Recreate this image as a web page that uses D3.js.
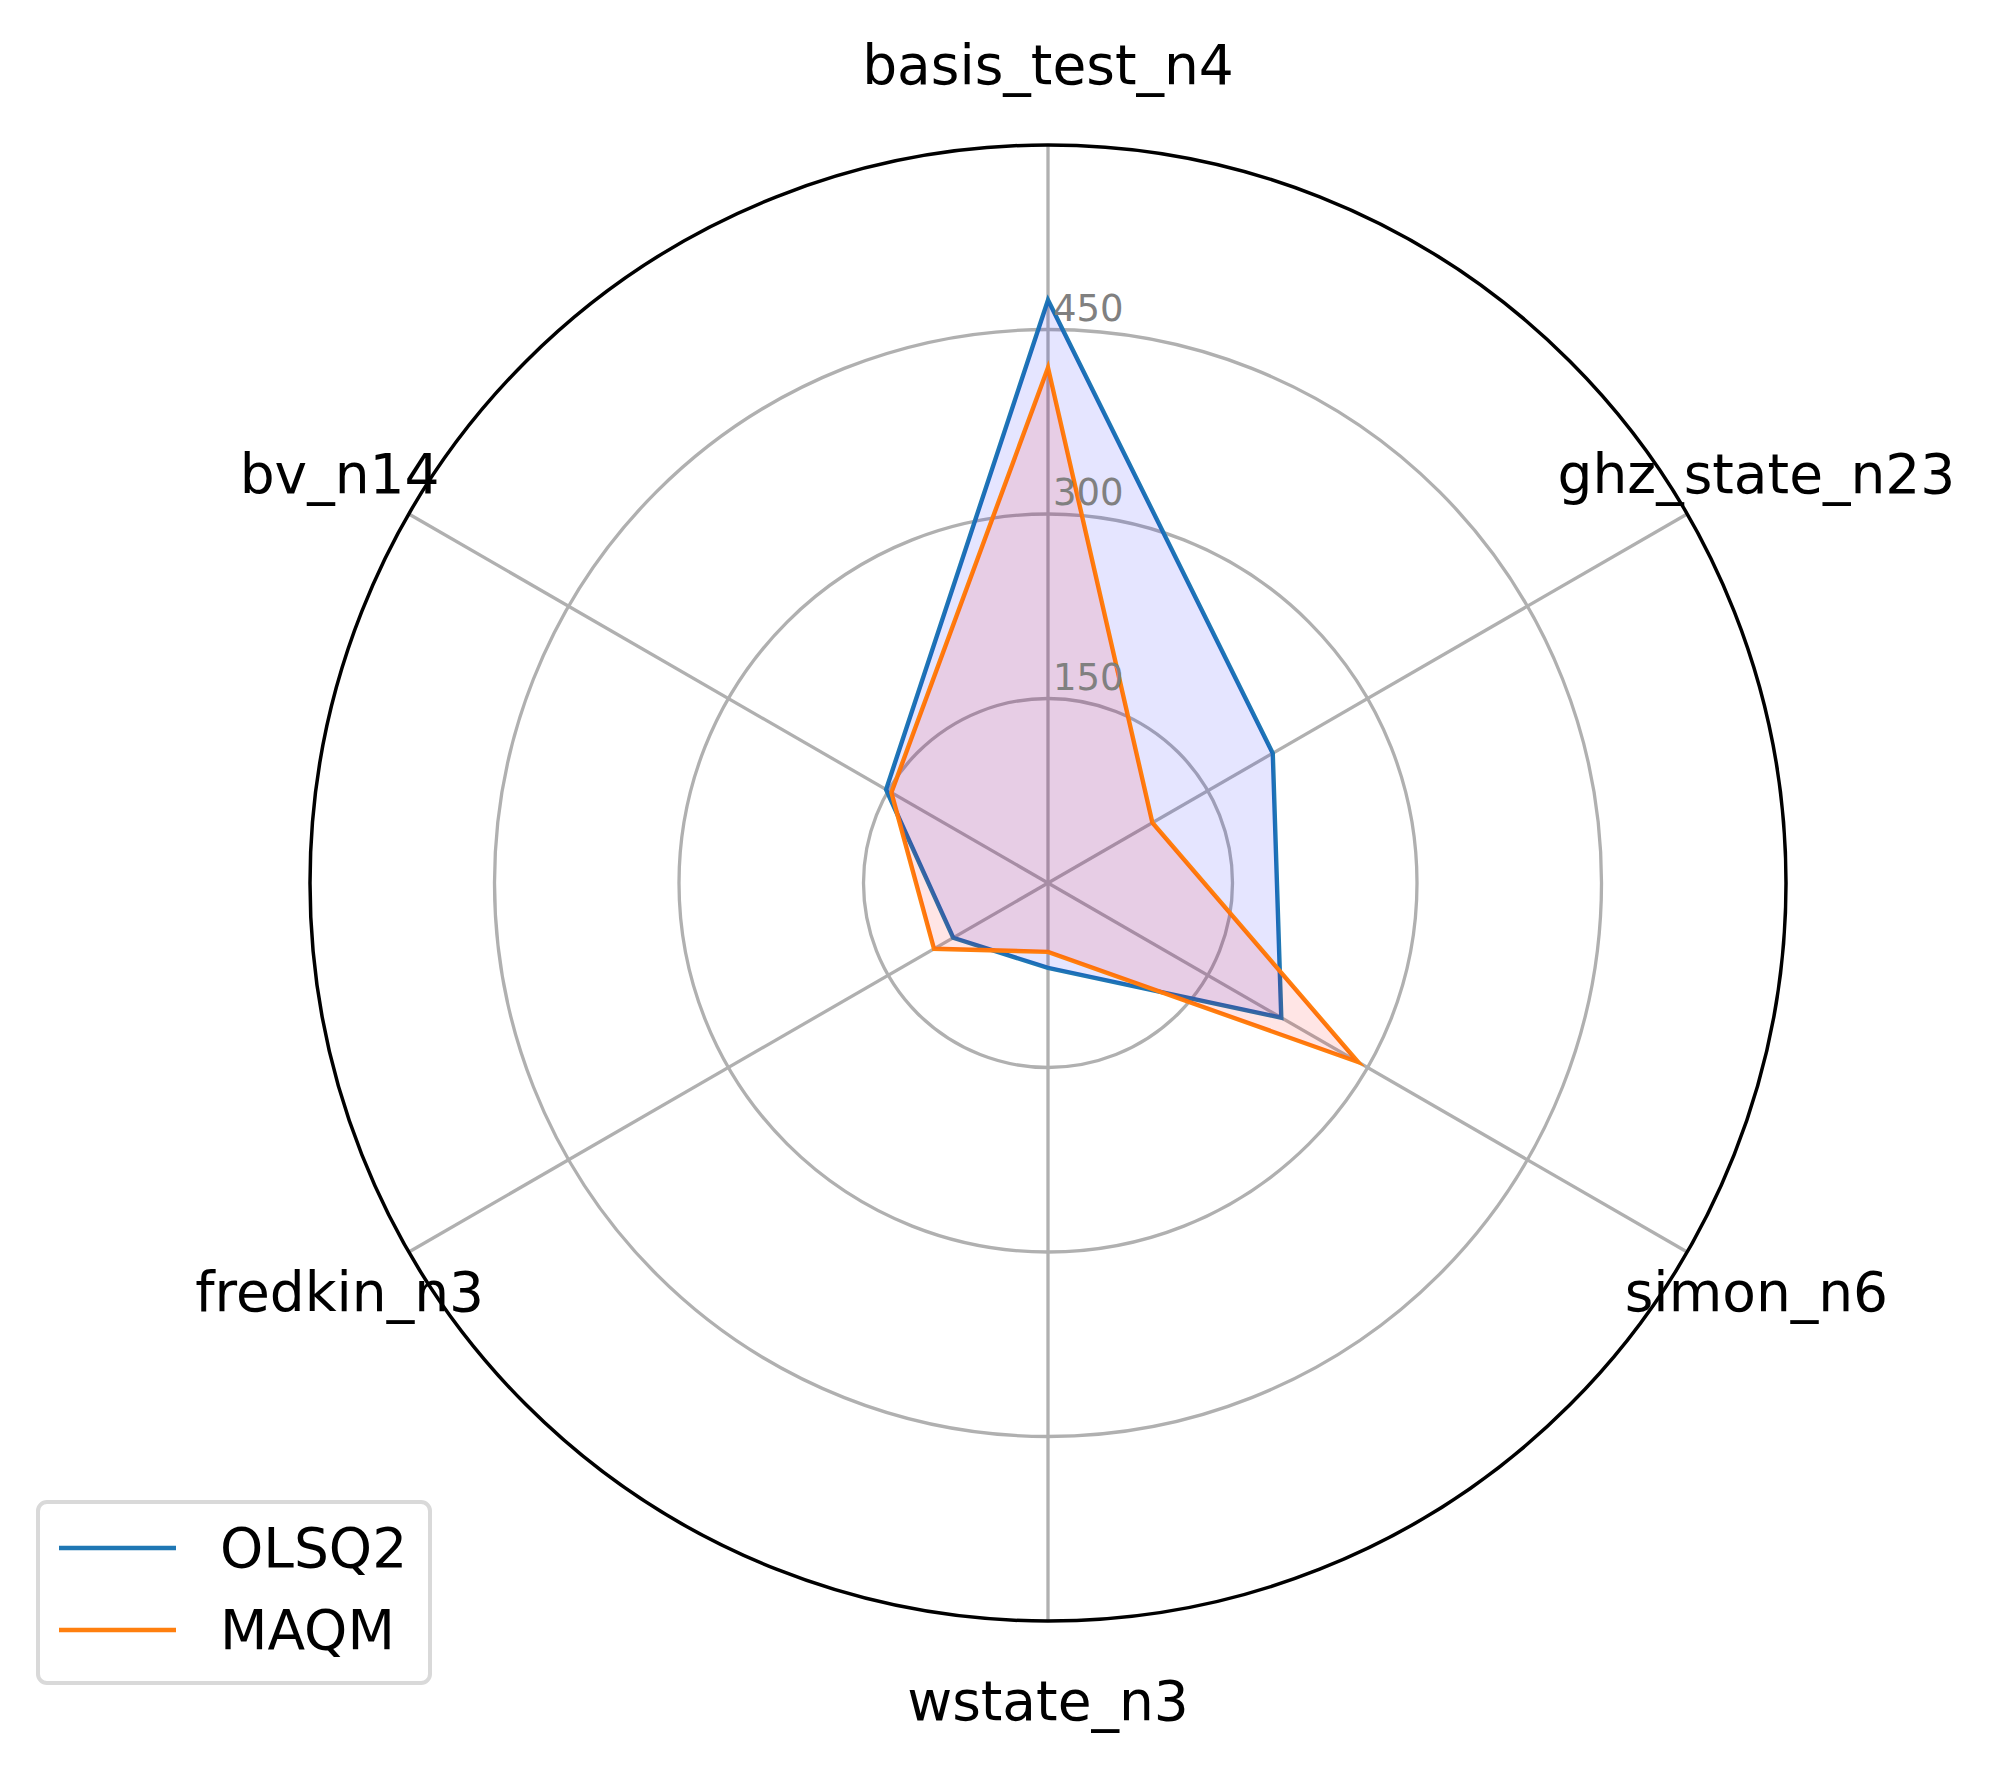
<!DOCTYPE html>
<html lang="en">

<head>
    <meta charset="UTF-8">
    <title>Radar</title>
    <style>
        body { margin: 0; background: #fff; }
        text { font-family: "DejaVu Sans", sans-serif; }
    </style>
</head>

<body>
    <script type='text/javascript' src='https://d3js.org/d3.v7.min.js'></script>
    <script>
        // categories, clockwise from the top
        const categories = ['basis_test_n4', 'ghz_state_n23', 'simon_n6', 'wstate_n3', 'fredkin_n3', 'bv_n14'];
        const olsq2 = [474, 211, 219, 69, 89, 152];
        const maqm = [419, 98, 291, 56, 107, 147];
        const seriesNames = ['OLSQ2', 'MAQM'];
        const rTicks = [150, 300, 450];
        const rMax = 600;

        const W = 1996, H = 1768;
        const cx = 1048, cy = 883, R = 738;

        const svg = d3.select('body').append('svg').attr('width', W).attr('height', H);
        const g = svg.append('g').attr('transform', `translate(${cx},${cy})`);

        const r = d3.scaleLinear().domain([0, rMax]).range([0, R]);
        const angle = d3.scaleLinear().domain([0, categories.length]).range([0, 2 * Math.PI]);

        // grid circles
        g.selectAll('.grid')
            .data(rTicks)
            .enter().append('circle')
            .attr('class', 'grid')
            .attr('r', d => r(d))
            .style('fill', 'none')
            .style('stroke', '#b0b0b0')
            .style('stroke-width', 3.3);

        // spokes
        g.selectAll('.spoke')
            .data(categories)
            .enter().append('line')
            .attr('class', 'spoke')
            .attr('x1', 0).attr('y1', 0)
            .attr('x2', (d, i) => Math.sin(angle(i)) * r(rMax))
            .attr('y2', (d, i) => -Math.cos(angle(i)) * r(rMax))
            .style('stroke', '#b0b0b0')
            .style('stroke-width', 3.3);

        // series
        const line = d3.lineRadial()
            .angle((d, i) => angle(i))
            .radius(d => r(d))
            .curve(d3.curveLinearClosed);

        const series = [
            { name: seriesNames[0], values: olsq2, stroke: '#1f77b4', fill: 'blue' },
            { name: seriesNames[1], values: maqm, stroke: '#ff7f0e', fill: 'red' }
        ];

        series.forEach(s => {
            g.append('path')
                .attr('d', line(s.values))
                .style('fill', 'none')
                .style('stroke', s.stroke)
                .style('stroke-width', 4.4)
                .style('stroke-linejoin', 'miter');
            g.append('path')
                .attr('d', line(s.values))
                .style('fill', s.fill)
                .style('fill-opacity', 0.1)
                .style('stroke', 'none');
        });

        // outer spine
        g.append('circle')
            .attr('r', r(rMax))
            .style('fill', 'none')
            .style('stroke', 'black')
            .style('stroke-width', 3.5);

        // radial tick labels
        g.selectAll('.rlabel')
            .data(rTicks)
            .enter().append('text')
            .attr('class', 'rlabel')
            .attr('x', 5)
            .attr('y', d => -r(d) - 9)
            .style('font-size', '37px')
            .style('fill', '#808080')
            .text(d => d);

        // category labels
        g.selectAll('.clabel')
            .data(categories)
            .enter().append('text')
            .attr('class', 'clabel')
            .attr('x', (d, i) => Math.sin(angle(i)) * (R + 80))
            .attr('y', (d, i) => -Math.cos(angle(i)) * (R + 80))
            .attr('text-anchor', 'middle')
            .attr('dominant-baseline', 'central')
            .style('font-size', '55px')
            .style('fill', 'black')
            .text(d => d);

        // legend
        const lg = svg.append('g').attr('transform', 'translate(38,1502)');
        lg.append('rect')
            .attr('width', 392).attr('height', 181)
            .attr('rx', 9)
            .style('fill', 'white')
            .style('stroke', '#d9d9d9')
            .style('stroke-width', 4);
        series.forEach((s, i) => {
            lg.append('line')
                .attr('x1', 21).attr('x2', 138)
                .attr('y1', 46 + i * 82).attr('y2', 46 + i * 82)
                .style('stroke', s.stroke)
                .style('stroke-width', 4.4);
            lg.append('text')
                .attr('x', 182)
                .attr('y', 46 + i * 82)
                .attr('dominant-baseline', 'central')
                .style('font-size', '55px')
                .text(s.name);
        });
    </script>
</body>

</html>
